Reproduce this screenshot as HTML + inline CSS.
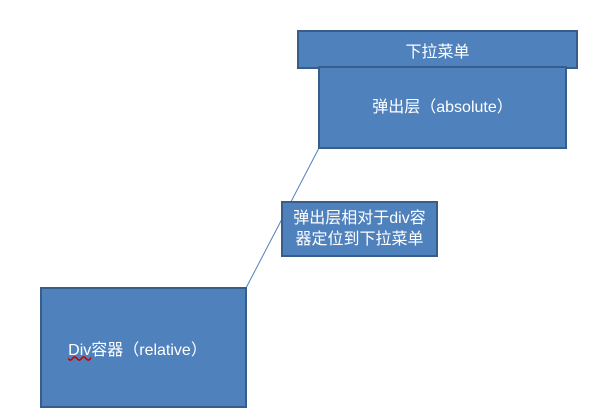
<!DOCTYPE html>
<html><head><meta charset="utf-8"><style>
body{margin:0;width:589px;height:415px;background:#fff;position:relative;overflow:hidden;font-family:"Liberation Sans","Noto Sans CJK SC",sans-serif;}
.b{position:absolute;background:#4f81bd;border:2px solid #385d8a;box-sizing:border-box;color:#fff;display:flex;align-items:center;justify-content:center;text-align:center;font-size:16px;}
</style></head><body>
<svg style="position:absolute;left:0;top:0" width="589" height="415"><line x1="319" y1="148" x2="246" y2="288" stroke="#4f81bd" stroke-width="1"/></svg>
<div class="b" style="left:297px;top:30px;width:281px;height:39px;">下拉菜单</div>
<div class="b" style="left:318px;top:66px;width:249px;height:83px;padding-bottom:6px;">弹出层（absolute）</div>
<div class="b" style="left:281px;top:201px;width:157px;height:56px;font-size:16px;line-height:21px;">弹出层相对于div容<br>器定位到下拉菜单</div>
<div class="b" style="left:40px;top:287px;width:207px;height:121px;padding-right:12px;"><span><span style="text-decoration:underline wavy #c00;">Div</span>容器（relative）</span></div>
</body></html>
